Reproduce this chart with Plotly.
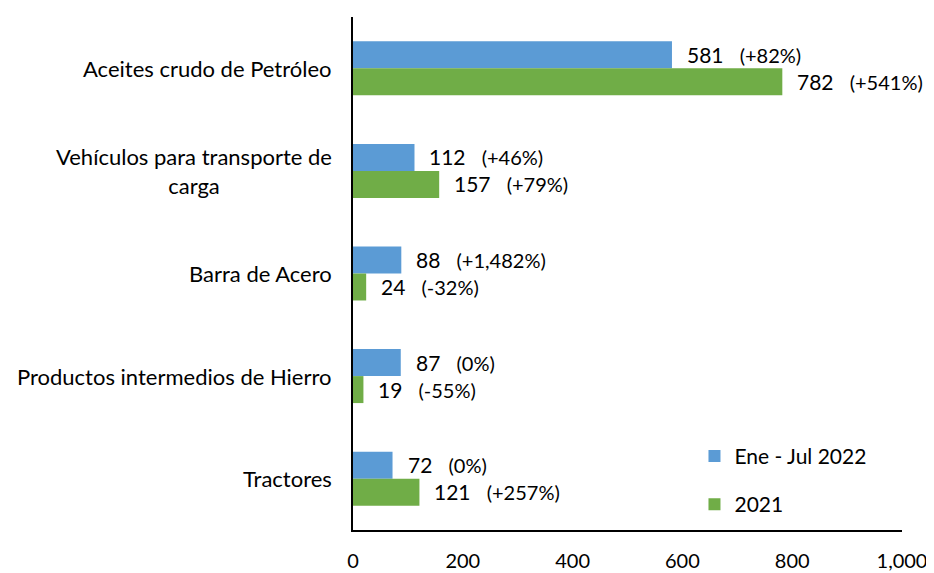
import plotly.graph_objects as go

categories = [
    "Aceites crudo de Petróleo",
    "Vehículos para transporte de<br>carga",
    "Barra de Acero",
    "Productos intermedios de Hierro",
    "Tractores",
]
series_names = ["Ene - Jul 2022", "2021"]
values_2022 = [581, 112, 88, 87, 72]
values_2021 = [782, 157, 24, 19, 121]
pct_2022 = ["(+82%)", "(+46%)", "(+1,482%)", "(0%)", "(0%)"]
pct_2021 = ["(+541%)", "(+79%)", "(-32%)", "(-55%)", "(+257%)"]
x_ticks = [0, 200, 400, 600, 800, 1000]
x_tick_text = ["0", "200", "400", "600", "800", "1,000"]

BLUE = "#5B9BD5"
GREEN = "#70AD47"
FONT = "Lato"

fig = go.Figure()
fig.add_trace(go.Bar(y=categories, x=values_2022, orientation="h", name=series_names[0],
                     marker=dict(color=BLUE, line=dict(width=0)), legendgroup="a"))
fig.add_trace(go.Bar(y=categories, x=values_2021, orientation="h", name=series_names[1],
                     marker=dict(color=GREEN, line=dict(width=0)), legendgroup="b"))

ann = []
sp = "\u00a0" * 3
for vals, pcts, ysh in ((values_2022, pct_2022, 14), (values_2021, pct_2021, -13)):
    for c, v, p in zip(categories, vals, pcts):
        ann.append(dict(x=v, y=c, xref="x", yref="y", xanchor="left", yanchor="middle",
                        xshift=13, yshift=ysh, showarrow=False,
                        text=f"{v:,}{sp}<span style='font-size:20px'>{p}</span>",
                        font=dict(family=FONT, size=21, color="#000000")))
for c in categories:
    ann.append(dict(x=0, y=c, xref="paper", yref="y", xanchor="right", yanchor="middle",
                    xshift=-19, showarrow=False, align="center", text=c,
                    font=dict(family=FONT, size=22, color="#000000")))

# page body has an 8px margin; figure is sized to fill the rest of the window
fig.update_layout(
    width=926, height=565,
    margin=dict(l=345, r=32, t=9, b=43, autoexpand=False),
    paper_bgcolor="white", plot_bgcolor="white",
    barmode="group", bargap=0.474, bargroupgap=0,
    font=dict(family=FONT, size=20, color="#000000"),
    showlegend=True,
    legend=dict(x=0.622, y=0.097, xanchor="left", yanchor="middle",
                traceorder="grouped", tracegroupgap=18,
                font=dict(family=FONT, size=21, color="#000000"),
                bgcolor="rgba(0,0,0,0)"),
    annotations=ann,
)
fig.update_xaxes(range=[0, 1000], tickvals=x_ticks, ticktext=x_tick_text, automargin=False,
                 showgrid=False, zeroline=False, showline=True, linecolor="#000000",
                 linewidth=1.5, ticks="", tickfont=dict(family=FONT, size=20, color="#000000"),
                 ticklabelstandoff=12)
fig.update_yaxes(autorange="reversed", showticklabels=False, showgrid=False, zeroline=False,
                 automargin=False,
                 showline=True, linecolor="#000000", linewidth=1.5, ticks="")

fig.write_html("out.html")
